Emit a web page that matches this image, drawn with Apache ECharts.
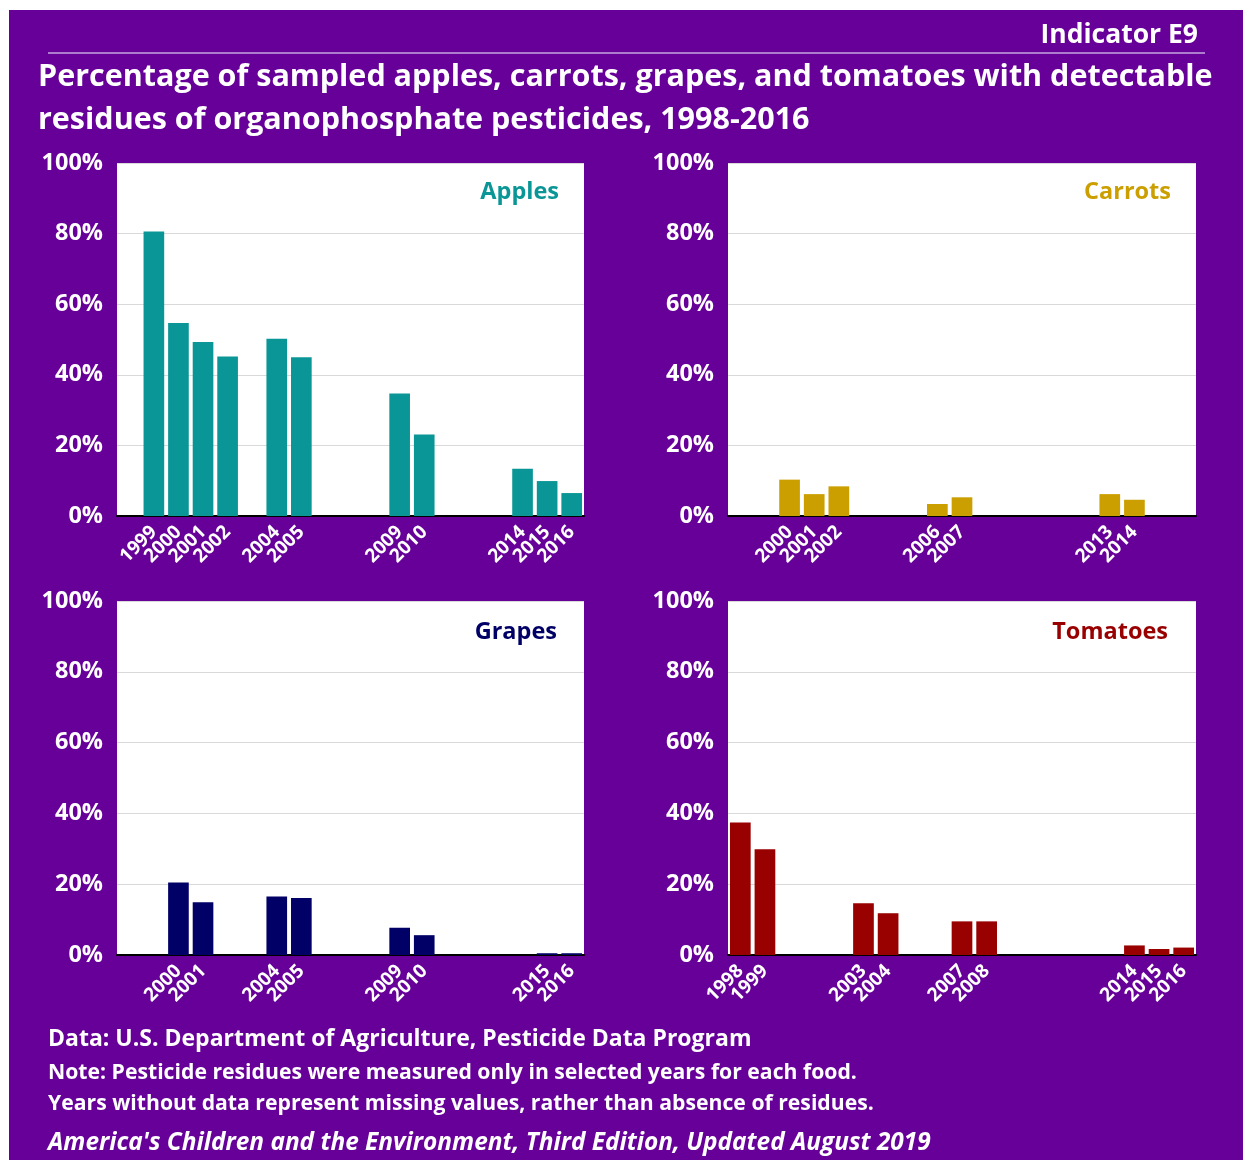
<!DOCTYPE html>
<html>
<head>
<meta charset="utf-8">
<script src="https://cdn.jsdelivr.net/npm/echarts@6/dist/echarts.min.js"></script>
<style>
html,body{margin:0;padding:0;background:#fff;}
#c{width:1243px;height:1160px;}
</style>
</head>
<body>
<div id="c"></div>
<script>
const years = ['1998','1999','2000','2001','2002','2003','2004','2005','2006','2007','2008','2009','2010','2011','2012','2013','2014','2015','2016'];
const apples   = [null,80.6,54.7,49.3,45.2,null,50.2,45.0,null,null,null,34.7,23.1,null,null,null,13.4,9.9,6.5];
const carrots  = [null,null,10.3,6.2,8.4,null,null,null,3.4,5.3,null,null,null,null,null,6.2,4.6,null,null];
const grapes   = [null,null,20.5,14.9,null,null,16.5,16.1,null,null,null,7.7,5.6,null,null,null,null,0.5,0.5];
const tomatoes = [37.4,29.9,null,null,null,14.6,11.8,null,null,9.5,9.5,null,null,null,null,null,2.7,1.7,2.1];
const yTicks = [0,20,40,60,80,100];

const FONT = '"Open Sans"';
const panels = [
  {name:'Apples',   data:apples,   color:'#0A9696', grid:{left:117, top:163, width:467, height:353}, labelRight:559, labelY:192},
  {name:'Carrots',  data:carrots,  color:'#CC9F00', grid:{left:728, top:163, width:468, height:353}, labelRight:1171, labelY:192},
  {name:'Grapes',   data:grapes,   color:'#000066', grid:{left:117, top:601, width:467, height:354}, labelRight:557, labelY:632},
  {name:'Tomatoes', data:tomatoes, color:'#990000', grid:{left:728, top:601, width:468, height:354}, labelRight:1168, labelY:632}
];

const grids = [], xAxes = [], yAxes = [], series = [];
panels.forEach((p, i) => {
  grids.push(Object.assign({show:true, backgroundColor:'#ffffff', borderWidth:0}, p.grid));
  xAxes.push({
    type:'category', gridIndex:i, data:years,
    axisLine:{show:true, onZero:false, lineStyle:{color:'#000', width:2}},
    axisTick:{show:false},
    axisLabel:{
      interval:0, rotate:45, margin:13, color:'#fff', fontFamily:FONT, fontWeight:'bold', fontSize:19,
      formatter:(v, idx) => (p.data[idx] === null ? '' : v)
    }
  });
  yAxes.push({
    type:'value', gridIndex:i, min:yTicks[0], max:yTicks[yTicks.length-1], interval:20,
    axisLine:{show:false}, axisTick:{show:false},
    splitLine:{show:true, lineStyle:{color:'#d9d9d9', width:1}},
    axisLabel:{margin:14, color:'#fff', fontFamily:FONT, fontWeight:'bold', fontSize:23.5, formatter:'{value}%'}
  });
  series.push({
    type:'bar', xAxisIndex:i, yAxisIndex:i, data:p.data, barCategoryGap:'16%',
    itemStyle:{color:p.color}, silent:true
  });
});

const txt = (x, y, text, size, opts) => Object.assign({
  type:'text', x:x, y:y, z:10,
  style:Object.assign({text:text, fill:'#fff', font:'bold ' + size + 'px ' + FONT, textVerticalAlign:'middle', textAlign:'left'}, opts || {})
});

const graphics = [
  {type:'rect', shape:{x:9, y:10, width:1240, height:1160}, style:{fill:'#660099'}, z:-10},
  {type:'line', shape:{x1:48, y1:53, x2:1205, y2:53}, style:{stroke:'#c7a6e0', lineWidth:1.5}},
  txt(1198, 35, 'Indicator E9', 26.5, {textAlign:'right'}),
  txt(38, 77, 'Percentage of sampled apples, carrots, grapes, and tomatoes with detectable', 30.5),
  txt(38, 120, 'residues of organophosphate pesticides, 1998-2016', 30.5),
  txt(48, 1039, 'Data: U.S. Department of Agriculture, Pesticide Data Program', 23),
  txt(48, 1073, 'Note: Pesticide residues were measured only in selected years for each food.', 21.2),
  txt(48, 1104, 'Years without data represent missing values, rather than absence of residues.', 21.2),
  {type:'text', x:48, y:1143, z:10, style:{text:"America's Children and the Environment, Third Edition, Updated August 2019", fill:'#fff', font:'italic bold 24.4px ' + FONT, textVerticalAlign:'middle'}}
];
panels.forEach(p => {
  graphics.push({type:'text', x:p.labelRight, y:p.labelY, z:10,
    style:{text:p.name, fill:p.color, font:'bold 23.5px ' + FONT, textAlign:'right', textVerticalAlign:'middle'}});
});

const chart = echarts.init(document.getElementById('c'), null, {renderer:'canvas'});
chart.setOption({
  animation:false,
  backgroundColor:'#ffffff',
  textStyle:{fontFamily:FONT},
  grid:grids, xAxis:xAxes, yAxis:yAxes, series:series,
  graphic:graphics
});
</script>
</body>
</html>
